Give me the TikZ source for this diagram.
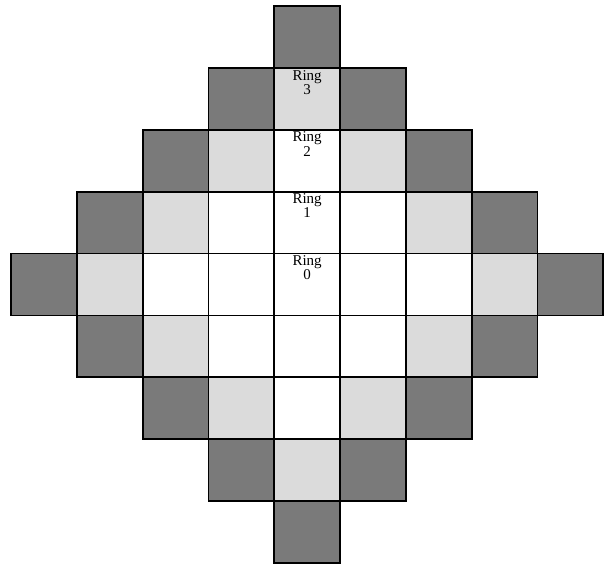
\documentclass[tikz,border=0pt]{standalone}
\usepackage{fontspec}
\setmainfont{Liberation Serif}
\usetikzlibrary{positioning}
\colorlet{lightcell}{black!14}
\colorlet{darkcell}{black!52}

\begin{document}
\begin{tikzpicture}[
x=1pt, y=1pt,
cell/.style={minimum width=65.8pt, minimum height=61.9pt, inner sep=0pt, outer sep=0pt},
edge/.style={draw=black, line width=1.8pt},
ringlbl/.style={align=center, inner sep=2pt, font=\fontsize{15}{10}\selectfont}
]
\useasboundingbox (0,0) rectangle (611,565);
% diamond of cells, shade by distance from the centre
\foreach \r in {0,...,8}{
  \pgfmathtruncatemacro{\w}{4-abs(\r-4)}
  \foreach \c in {-\w,...,\w}{
    \pgfmathtruncatemacro{\d}{abs(\r-4)+abs(\c)}
    \pgfmathtruncatemacro{\k}{\c+4}
    \ifnum\d<3 \def\shade{white}\else\ifnum\d=3 \def\shade{lightcell}\else\def\shade{darkcell}\fi\fi
    \node[cell, fill=\shade] (cell\r\k) at ({307.1+65.8*\c},{528.05-61.9*\r}) {};
  }
}
% outlines on top
\foreach \r in {0,...,8}{
  \pgfmathtruncatemacro{\w}{4-abs(\r-4)}
  \foreach \c in {-\w,...,\w}{
    \pgfmathtruncatemacro{\k}{\c+4}
    \draw[edge] (cell\r\k.south west) rectangle (cell\r\k.north east);
  }
}
\node[ringlbl, anchor=north] (ring3) at (cell14.north) {Ring\\3};
\node[ringlbl, anchor=north] (ring2) at (cell24.north) {Ring\\2};
\node[ringlbl, anchor=north] (ring1) at (cell34.north) {Ring\\1};
\node[ringlbl, anchor=north] (ring0) at (cell44.north) {Ring\\0};
\end{tikzpicture}
\end{document}
